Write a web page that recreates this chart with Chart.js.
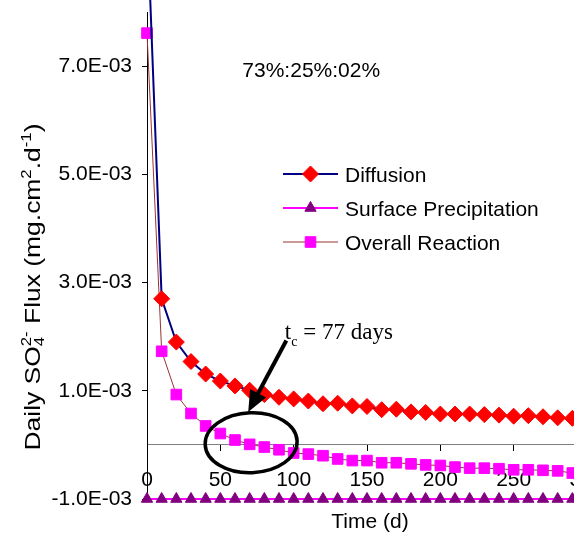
<!DOCTYPE html>
<html>
<head>
<meta charset="utf-8">
<script src="https://cdn.jsdelivr.net/npm/chart.js@4.4.1/dist/chart.umd.min.js"></script>
<style>
  html, body { margin: 0; padding: 0; background: #fff; }
  #wrap { width: 574px; height: 537px; overflow: hidden; }
</style>
</head>
<body>
<div id="wrap"><canvas id="fluxChart" width="620" height="537"></canvas></div>
<script>
// time in days
const days = [0, 10, 20, 30, 40, 50, 60, 70, 80, 90, 100, 110, 120, 130, 140, 150,
  160, 170, 180, 190, 200, 210, 220, 230, 240, 250, 260, 270, 280, 290, 300];

// daily SO4 flux, mg.cm2.d-1
const diffusion = [9.8e-3, 2.70e-3, 1.90e-3, 1.54e-3, 1.31e-3, 1.18e-3, 1.09e-3, 1.01e-3,
  0.93e-3, 0.88e-3, 0.85e-3, 0.81e-3, 0.76e-3, 0.77e-3, 0.72e-3, 0.71e-3, 0.65e-3,
  0.66e-3, 0.61e-3, 0.60e-3, 0.57e-3, 0.57e-3, 0.57e-3, 0.56e-3, 0.55e-3, 0.53e-3,
  0.54e-3, 0.52e-3, 0.50e-3, 0.49e-3, 0.48e-3];
const surfacePrecipitation = [-1.0e-3, -1.0e-3, -1.0e-3, -1.0e-3, -1.0e-3, -1.0e-3, -1.0e-3,
  -1.0e-3, -1.0e-3, -1.0e-3, -1.0e-3, -1.0e-3, -1.0e-3, -1.0e-3, -1.0e-3, -1.0e-3, -1.0e-3,
  -1.0e-3, -1.0e-3, -1.0e-3, -1.0e-3, -1.0e-3, -1.0e-3, -1.0e-3, -1.0e-3, -1.0e-3, -1.0e-3,
  -1.0e-3, -1.0e-3, -1.0e-3, -1.0e-3];
const overallReaction = [7.61e-3, 1.73e-3, 0.93e-3, 0.58e-3, 0.35e-3, 0.21e-3, 0.09e-3,
  0.01e-3, -0.04e-3, -0.09e-3, -0.15e-3, -0.17e-3, -0.20e-3, -0.26e-3, -0.29e-3, -0.29e-3,
  -0.33e-3, -0.33e-3, -0.35e-3, -0.37e-3, -0.38e-3, -0.41e-3, -0.43e-3, -0.43e-3, -0.44e-3,
  -0.46e-3, -0.46e-3, -0.47e-3, -0.48e-3, -0.52e-3, -0.52e-3];

const seriesNames = ['Diffusion', 'Surface Precipitation', 'Overall Reaction'];
const yTickValues = [-1.0e-3, 1.0e-3, 3.0e-3, 5.0e-3, 7.0e-3];
const ratioText = '73%:25%:02%';
const tcDays = 77;

const SANS = "'Liberation Sans', Arial, sans-serif";
const SERIF = "'Liberation Serif', 'Times New Roman', serif";

Chart.defaults.font.family = SANS;
Chart.defaults.font.size = 21;
Chart.defaults.color = '#000';

function pairs(vals) {
  return days.map((d, i) => ({ x: d, y: vals[i] }));
}

// 0.007 -> 7.0E-03
function sci(v) {
  const parts = v.toExponential(1).split('e');
  const e = parseInt(parts[1], 10);
  return parts[0] + 'E' + (e < 0 ? '-' : '+') + String(Math.abs(e)).padStart(2, '0');
}

// text runs with sub/superscripts, drawn rotated for the y title
function drawRuns(ctx, runs, cx, cy, length) {
  let pos = 0, prevStart = 0;
  const placed = runs.map(r => {
    ctx.font = r.size + 'px ' + SANS;
    const w = ctx.measureText(r.t).width;
    const x = r.stack ? prevStart : pos;
    prevStart = x;
    pos = Math.max(pos, x + w);
    return { r, x };
  });
  ctx.save();
  ctx.translate(cx, cy);
  ctx.rotate(-Math.PI / 2);
  ctx.scale(length / pos, 1);
  ctx.translate(-pos / 2, 0);
  ctx.fillStyle = '#000';
  ctx.textBaseline = 'alphabetic';
  ctx.textAlign = 'left';
  placed.forEach(p => {
    ctx.font = p.r.size + 'px ' + SANS;
    ctx.fillText(p.r.t, p.x, 8 + (p.r.dy || 0));
  });
  ctx.restore();
}

const extras = {
  id: 'extras',
  afterDraw(chart) {
    const ctx = chart.ctx;
    const xs = chart.scales.x, ys = chart.scales.y;
    const X = v => xs.getPixelForValue(v);
    const Y = v => ys.getPixelForValue(v);

    // legend: line sample with marker
    ctx.save();
    const lx0 = 283, lx1 = 338, rowY = [174, 208, 242];
    chart.data.datasets.forEach((ds, i) => {
      const y = rowY[i];
      ctx.strokeStyle = ds.borderColor;
      ctx.lineWidth = ds.borderWidth;
      ctx.beginPath();
      ctx.moveTo(lx0, y);
      ctx.lineTo(lx1, y);
      ctx.stroke();
      ctx.fillStyle = ds.pointBackgroundColor;
      ctx.strokeStyle = ds.pointBorderColor;
      ctx.lineWidth = 1;
      Chart.helpers.drawPoint(ctx, { pointStyle: ds.pointStyle, radius: ds.pointRadius, rotation: 0, borderWidth: 1 }, (lx0 + lx1) / 2, y);
      ctx.fillStyle = '#000';
      ctx.font = '21px ' + SANS;
      ctx.textBaseline = 'alphabetic';
      ctx.textAlign = 'left';
      ctx.fillText(ds.label, 345, y + 8);
    });

    // share ratio
    ctx.fillText(ratioText, X(65), Y(6.8e-3));

    // t_c label
    let tx = X(94);
    const ty = Y(1.95e-3);
    ctx.font = '23px ' + SERIF;
    ctx.fillText('t', tx, ty);
    tx += ctx.measureText('t').width;
    ctx.font = '14px ' + SERIF;
    ctx.fillText('c', tx, ty + 7);
    tx += ctx.measureText('c').width;
    ctx.font = '23px ' + SERIF;
    ctx.fillText(' = ' + tcDays + ' days', tx, ty);

    // arrow
    const ax0 = X(95), ay0 = Y(1.93e-3), ax1 = X(69), ay1 = Y(0.61e-3);
    const ang = Math.atan2(ay1 - ay0, ax1 - ax0);
    ctx.strokeStyle = '#000';
    ctx.lineWidth = 4;
    ctx.beginPath();
    ctx.moveTo(ax0, ay0);
    ctx.lineTo(ax1 - 12 * Math.cos(ang), ay1 - 12 * Math.sin(ang));
    ctx.stroke();
    ctx.fillStyle = '#000';
    ctx.beginPath();
    ctx.moveTo(ax1, ay1);
    ctx.lineTo(ax1 - 21 * Math.cos(ang) + 9 * Math.sin(ang), ay1 - 21 * Math.sin(ang) - 9 * Math.cos(ang));
    ctx.lineTo(ax1 - 21 * Math.cos(ang) - 9 * Math.sin(ang), ay1 - 21 * Math.sin(ang) + 9 * Math.cos(ang));
    ctx.closePath();
    ctx.fill();

    // hand drawn circle round the crossing
    ctx.lineWidth = 3.5;
    ctx.beginPath();
    ctx.ellipse(X(71), Y(0.04e-3), 46, 30, -0.04, 0, Math.PI * 2);
    ctx.stroke();

    // axis titles
    ctx.font = '21px ' + SANS;
    ctx.textAlign = 'center';
    ctx.fillText('Time (d)', 370, 528);
    ctx.restore();

    drawRuns(ctx, [
      { t: 'Daily SO', size: 22 },
      { t: '4', size: 14, dy: 4 },
      { t: '2-', size: 14, dy: -9, stack: true },
      { t: ' Flux (mg.cm', size: 22 },
      { t: '2', size: 14, dy: -9 },
      { t: '.d', size: 22 },
      { t: '-1', size: 14, dy: -9 },
      { t: ')', size: 22 }
    ], 32, 287, 327);
  }
};

const ctx = document.getElementById('fluxChart').getContext('2d');

const fluxChart = new Chart(ctx, {
  type: 'line',
  data: {
    datasets: [{
      label: seriesNames[0],
      data: pairs(diffusion),
      borderColor: '#000080',
      borderWidth: 2,
      pointStyle: 'rectRot',
      pointRadius: 8,
      pointBackgroundColor: '#FF0000',
      pointBorderColor: '#FF0000',
      pointBorderWidth: 1,
      clip: false
    }, {
      label: seriesNames[1],
      data: pairs(surfacePrecipitation),
      borderColor: '#FF00FF',
      borderWidth: 2,
      pointStyle: 'triangle',
      pointRadius: 6.5,
      pointBackgroundColor: '#800080',
      pointBorderColor: '#800080',
      pointBorderWidth: 1,
      clip: false
    }, {
      label: seriesNames[2],
      data: pairs(overallReaction),
      borderColor: '#993333',
      borderWidth: 1,
      pointStyle: 'rect',
      pointRadius: 7.5,
      pointBackgroundColor: '#FF00FF',
      pointBorderColor: '#FF00FF',
      pointBorderWidth: 1,
      clip: false
    }]
  },
  options: {
    responsive: false,
    animation: false,
    layout: { padding: { left: 0, top: 12, right: 33, bottom: 38 } },
    plugins: { legend: { display: false }, tooltip: { enabled: false } },
    elements: { line: { tension: 0 } },
    scales: {
      x: {
        type: 'linear',
        min: 0,
        max: 300,
        position: { y: 0 },
        grid: { drawOnChartArea: false, tickLength: 6, color: '#000' },
        border: { color: '#808080', width: 1 },
        ticks: { stepSize: 50, padding: 17, maxRotation: 0 },
        afterFit: s => { s.height = 0; s.paddingLeft = 0; s.paddingRight = 0; }
      },
      y: {
        min: -1.0e-3,
        max: 8.0e-3,
        grid: { drawOnChartArea: false, tickLength: 5, color: '#000' },
        border: { color: '#000', width: 1 },
        ticks: { padding: 10, callback: v => sci(v) },
        afterBuildTicks: s => { s.ticks = yTickValues.map(v => ({ value: v })); },
        afterFit: s => { s.width = 147; s.paddingTop = 0; s.paddingBottom = 0; }
      }
    }
  },
  plugins: [extras]
});
</script>
</body>
</html>
